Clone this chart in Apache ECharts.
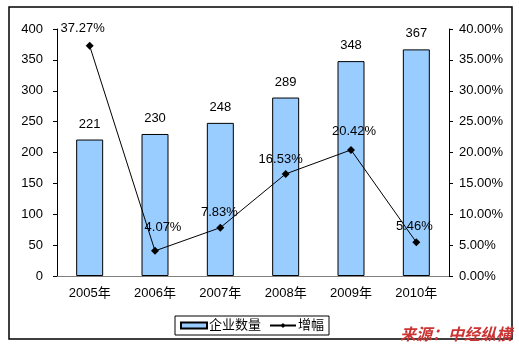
<!DOCTYPE html>
<html>
<head>
<meta charset="utf-8">
<script src="https://cdn.jsdelivr.net/npm/echarts@6/dist/echarts.min.js"></script>
<style>
  html, body { margin: 0; padding: 0; background: #fff; }
  #chart { width: 519px; height: 347px; }
</style>
</head>
<body>
<div id="chart"></div>
<script>
// Years on the category axis
const years = ['2005年', '2006年', '2007年', '2008年', '2009年', '2010年'];
// Number of enterprises (left axis)
const companies = [221, 230, 248, 289, 348, 367];
// Year-on-year growth, percent (right axis)
const growth = [37.27, 4.07, 7.83, 16.53, 20.42, 5.46];

// Hand-placed nudges for the growth labels, in pixels
const growthLabelOffsets = [[-7, -17], [8, -23], [-1, -15], [-5, -15], [3, -18], [-2, -16]];

const FONT = '"Liberation Sans", Arial, "Noto Sans CJK SC", sans-serif';
const chart = echarts.init(document.getElementById('chart'));

chart.setOption({
  animation: false,
  backgroundColor: '#fff',
  textStyle: { fontFamily: FONT },
  grid: { left: 57, right: 70, top: 29, bottom: 71 },
  legend: {
    left: 175, top: 316,
    itemWidth: 26, itemHeight: 6, itemGap: 8,
    padding: [3, 5, 3, 5],
    borderColor: '#000', borderWidth: 1,
    textStyle: { fontFamily: FONT, fontSize: 13, color: '#000', padding: [0, 0, 0, -3] },
    data: [
      { name: '企业数量', icon: 'rect' },
      { name: '增幅' }
    ]
  },
  xAxis: [
    {
      type: 'category', data: years,
      axisLine: { lineStyle: { color: '#000', width: 1 } },
      axisTick: { inside: true, length: 5, lineStyle: { color: '#000' } },
      axisLabel: { color: '#000', fontSize: 13, margin: 11, fontFamily: FONT }
    },
    {
      type: 'category', data: years, position: 'top',
      axisLine: { lineStyle: { color: '#808080', width: 1 } },
      axisTick: { show: false }, axisLabel: { show: false }
    }
  ],
  yAxis: [
    {
      type: 'value', min: 0, max: 400, interval: 50,
      axisLine: { show: true, lineStyle: { color: '#000' } },
      axisTick: { show: true, length: 4, lineStyle: { color: '#000' } },
      splitLine: { show: false },
      axisLabel: { color: '#000', fontSize: 13, margin: 14, fontFamily: FONT }
    },
    {
      type: 'value', min: 0, max: 40, interval: 5,
      axisLine: { show: true, lineStyle: { color: '#000' } },
      axisTick: { show: true, length: 4, lineStyle: { color: '#000' } },
      splitLine: { show: false },
      axisLabel: {
        color: '#000', fontSize: 13, margin: 10, fontFamily: FONT,
        formatter: v => v.toFixed(2) + '%'
      }
    }
  ],
  series: [
    {
      name: '企业数量', type: 'bar', data: companies,
      barWidth: 27,
      itemStyle: { color: '#99CCFF', borderColor: '#000', borderWidth: 1 },
      label: { show: true, position: 'top', distance: 9, color: '#000', fontSize: 13, fontFamily: FONT }
    },
    {
      name: '增幅', type: 'line', yAxisIndex: 1,
      data: growth.map((v, i) => ({
        value: v,
        label: { offset: growthLabelOffsets[i] }
      })),
      symbol: 'diamond', symbolSize: 8,
      lineStyle: { color: '#000', width: 1 },
      itemStyle: { color: '#000' },
      z: 5,
      label: {
        show: true, position: 'inside', color: '#000', fontSize: 13, fontFamily: FONT,
        formatter: p => p.value.toFixed(2) + '%'
      }
    }
  ],
  graphic: [
    {
      type: 'rect', z: 100, silent: true,
      shape: { x: 9, y: 7, width: 503, height: 332 },
      style: { fill: 'none', stroke: '#000', lineWidth: 1.5 }
    },
    {
      type: 'text', z: 101, right: 7, top: 326,
      style: {
        text: '来源：中经纵横',
        fill: '#CC3333',
        font: 'italic bold 16px "Noto Sans CJK SC", sans-serif'
      }
    }
  ]
});
</script>
</body>
</html>
